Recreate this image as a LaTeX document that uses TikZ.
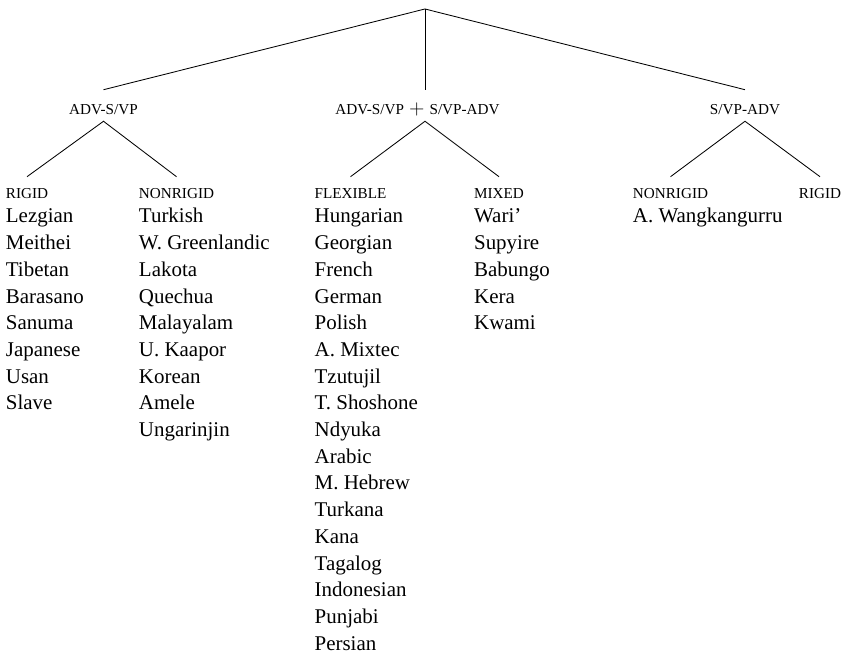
\documentclass[tikz,border=0pt]{standalone}
\usepackage{fontspec}
\setmainfont{Liberation Serif}

\tikzset{
  branch/.style={semithick},
  cat/.style={inner sep=0pt, anchor=base, font=\fontsize{10.8}{13}\selectfont,
    text height=0.625cm, text depth=0.15cm},
  kind/.style={inner sep=0pt, anchor=base, font=\fontsize{10.8}{13}\selectfont,
    text height=0.55cm, text depth=0pt},
  lang/.style={inner sep=0pt, anchor=base west, font=\fontsize{14.9}{19}\selectfont},
}

\begin{document}
\begin{tikzpicture}
    \useasboundingbox (0,0) rectangle (21.075,16.35);
    % top level
    \coordinate (root) at (10.625,16.125);
    \node [cat] (advs) at (2.5875,13.475) {ADV-S/VP};
    \node [cat] (both) at (10.4375,13.475) {ADV-S/VP\,\,{\fontsize{14.9}{19}\selectfont$+$}\,\,S/VP-ADV};
    \node [cat] (svpa) at (18.625,13.475) {S/VP-ADV};
    \draw [branch] (advs.north)--(root)--(svpa.north);
    \draw [branch] (root)--(both.north -| root);
    % second level
    \node [kind] (rigid) at (0.675,11.375) {RIGID};
    \node [kind] (nonrigid) at (4.4125,11.375) {NONRIGID};
    \node [kind] (flexible) at (8.7625,11.375) {FLEXIBLE};
    \node [kind] (mixed) at (12.475,11.375) {MIXED};
    \node [kind] (nonrigidb) at (16.7625,11.375) {NONRIGID};
    \node [kind] (rigidb) at (20.5,11.375) {RIGID};
    \draw [branch] (rigid.north)--(advs.south)--(nonrigid.north);
    \draw [branch] (flexible.north)--(both.south -| root)--(mixed.north);
    \draw [branch] (nonrigidb.north)--(svpa.south)--(rigidb.north);
    % languages
    \foreach \name [count=\i] in {Lezgian, Meithei, Tibetan, Barasano, Sanuma, Japanese, Usan, Slave}
        \node [lang] (rigid-\i) at ([yshift={-0.6cm-(\i-1)*0.6675cm}]rigid.base west) {\name};
    \foreach \name [count=\i] in {Turkish, W. Greenlandic, Lakota, Quechua, Malayalam, U. Kaapor, Korean, Amele, Ungarinjin}
        \node [lang] (nonrigid-\i) at ([yshift={-0.6cm-(\i-1)*0.6675cm}]nonrigid.base west) {\name};
    \foreach \name [count=\i] in {Hungarian, Georgian, French, German, Polish, A. Mixtec, Tzutujil, T. Shoshone, Ndyuka, Arabic, M. Hebrew, Turkana, Kana, Tagalog, Indonesian, Punjabi, Persian}
        \node [lang] (flexible-\i) at ([yshift={-0.6cm-(\i-1)*0.6675cm}]flexible.base west) {\name};
    \foreach \name [count=\i] in {Wari', Supyire, Babungo, Kera, Kwami}
        \node [lang] (mixed-\i) at ([yshift={-0.6cm-(\i-1)*0.6675cm}]mixed.base west) {\name};
    \node [lang] (nonrigidb-1) at ([yshift=-0.6cm]nonrigidb.base west) {A. Wangkangurru};
\end{tikzpicture}
\end{document}
